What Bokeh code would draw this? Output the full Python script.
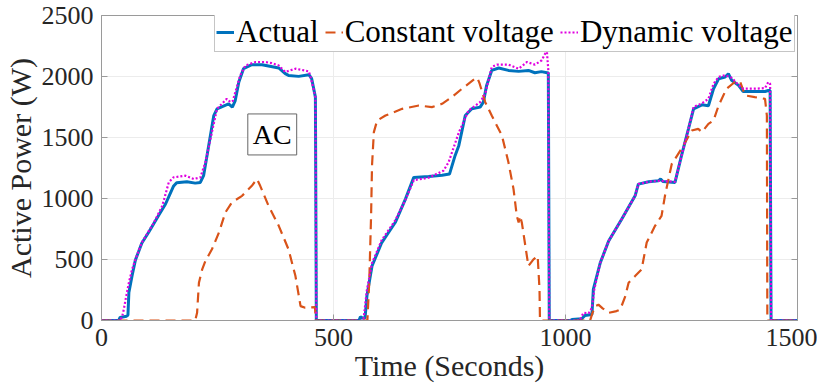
from bokeh.plotting import figure
from bokeh.models import Range1d, LinearAxis, Legend, LegendItem, Label, FixedTicker
from bokeh.embed import file_html
from bokeh.resources import INLINE

# ---- data ----
actual_t = [0, 37, 40, 54, 57, 59, 66, 73, 87, 102, 123, 138, 155, 162, 184, 202, 213, 220, 231, 242, 249,
            274, 282, 288, 296, 306, 324, 346, 382, 396, 403, 425, 447, 453, 461, 463,
            555, 558, 563, 568, 572, 583, 604, 633, 655, 673, 705, 734, 750, 762, 770, 784, 798, 816, 823,
            830, 841, 856, 877, 899, 920, 934, 948, 963, 965,
            1010, 1014, 1035, 1042, 1057, 1060, 1075, 1093, 1121, 1150, 1157, 1179, 1200, 1205, 1210, 1236,
            1250, 1265, 1276, 1294, 1308, 1319, 1330, 1344, 1351, 1358, 1373, 1383, 1409, 1430, 1437, 1441,
            1443, 1500]
actual_p = [0, 0, 25, 35, 45, 230, 370, 495, 635, 725, 860, 955, 1100, 1130, 1137, 1126, 1132, 1187, 1433, 1680, 1735,
            1775, 1748, 1800, 1955, 2064, 2097, 2097, 2070, 2023, 2009, 2001, 2015, 1982, 1831, 0,
            0, 30, 20, 20, 200, 447, 639, 803, 995, 1173, 1181, 1190, 1200, 1351, 1433, 1680, 1735, 1749, 1790,
            1927, 2050, 2070, 2050, 2042, 2050, 2031, 2040, 2028, 0,
            0, 8, 14, 41, 49, 255, 474, 652, 830, 1022, 1118, 1137, 1145, 1160, 1140, 1132,
            1351, 1571, 1735, 1768, 1760, 1900, 1982, 1996, 2023, 1969, 1927, 1877, 1877, 1877, 1885, 1885,
            0, 0]

const_t = [0, 202, 206, 210, 217, 224, 238, 253, 267, 281, 303, 324, 335, 342, 360, 382, 403, 418, 429, 439, 450,
           460, 462, 573, 577, 581, 583, 587, 594, 612, 648, 684, 712, 734, 755, 777, 805, 810, 815, 827, 841,
           863, 877, 888, 895, 899, 902, 906, 920, 931, 940, 944, 945, 1053, 1058, 1064, 1071, 1080, 1093,
           1110, 1118, 1129, 1136, 1150, 1164, 1175, 1193, 1207, 1215, 1229, 1236, 1254, 1272, 1286, 1294,
           1308, 1319, 1330, 1347, 1365, 1376, 1387, 1408, 1430, 1434, 1435, 1500]
const_p = [0, 0, 63, 310, 419, 488, 584, 720, 886, 968, 1022, 1104, 1160, 1104, 940, 776, 584, 364, 118, 104, 107,
           110, 0, 0, 310, 858, 1269, 1544, 1639, 1680, 1735, 1762, 1749, 1776, 1831, 1900, 1982, 1990, 1941, 1790, 1680,
           1516, 1297, 1077, 858, 803, 858, 800, 447, 501, 529, 255, 0, 0, 60, 118, 130, 100, 63,
           77, 90, 200, 310, 364, 419, 639, 776, 858, 1036, 1283, 1324, 1433, 1557, 1571, 1544,
           1612, 1639, 1762, 1900, 1955, 1962, 1845, 1831, 1817, 1680, 0, 0]

dyn_t = [0, 40, 45, 48, 52, 59, 66, 73, 87, 113, 131, 145, 155, 181, 199, 213, 224, 238, 249, 270, 278, 283,
         299, 310, 332, 352, 367, 382, 396, 418, 447, 453, 461, 463,
         560, 565, 572, 583, 604, 633, 655, 673, 705, 737, 748, 770, 791, 816, 827, 841, 852, 877, 899, 917,
         934, 949, 956, 960, 963, 965,
         1030, 1039, 1050, 1057, 1062, 1075, 1093, 1121, 1150, 1157, 1179, 1200, 1236, 1250, 1265, 1276, 1294,
         1308, 1319, 1330, 1344, 1358, 1373, 1383, 1409, 1430, 1437, 1441, 1443, 1500]
dyn_p = [0, 0, 40, 90, 173, 310, 420, 500, 640, 803, 940, 1132, 1173, 1187, 1160, 1173, 1297, 1544, 1735, 1817, 1790, 1800,
         2009, 2090, 2119, 2119, 2110, 2090, 2037, 2064, 2042, 1960, 1830, 0,
         0, 20, 250, 470, 660, 820, 990, 1150, 1170, 1228, 1297, 1540, 1721, 1790, 1858, 2078, 2097, 2097, 2064, 2119,
         2097, 2133, 2187, 2201, 2050, 0,
         0, 63, 60, 104, 255, 474, 652, 830, 1022, 1118, 1137, 1145, 1137, 1351, 1571, 1750, 1780,
         1817, 1940, 1996, 2010, 1990, 1930, 1900, 1900, 1905, 1955, 1940, 0, 0]

x_ticks = [0, 500, 1000, 1500]
y_ticks = [0, 500, 1000, 1500, 2000, 2500]
series_names = ["Actual", "Constant voltage", "Dynamic voltage"]

FONT = "Liberation Serif"
AXIS_COL = "#9a9a9a"
TXT_COL = "#262626"

p = figure(frame_width=696, frame_height=305, output_backend="svg", toolbar_location=None,
           x_range=Range1d(0, 1500), y_range=Range1d(0, 2500),
           min_border_left=98, min_border_right=20, min_border_top=15, min_border_bottom=54)
p.background_fill_color = "white"
p.border_fill_color = "white"
p.outline_line_color = AXIS_COL
p.outline_line_width = 1

r1 = p.line(actual_t, actual_p, line_color="#0072BD", line_width=3)
r2 = p.line(const_t, const_p, line_color="#D95319", line_width=2.2, line_dash="10 6")
r3 = p.line(dyn_t, dyn_p, line_color="#E000E0", line_width=2.2, line_dash="2 2")

for ax in (p.xaxis[0], p.yaxis[0]):
    ax.axis_line_color = AXIS_COL
    ax.major_tick_line_color = AXIS_COL
    ax.major_tick_in = 6
    ax.major_tick_out = 0
    ax.minor_tick_line_color = None
    ax.major_label_text_font = FONT
    ax.major_label_text_font_size = "26px"
    ax.major_label_text_color = TXT_COL
    ax.axis_label_text_font = FONT
    ax.axis_label_text_font_size = "30px"
    ax.axis_label_text_font_style = "normal"
    ax.axis_label_text_color = TXT_COL

p.xaxis[0].ticker = FixedTicker(ticks=x_ticks)
p.yaxis[0].ticker = FixedTicker(ticks=y_ticks)
p.xaxis[0].axis_label = "Time (Seconds)"
p.yaxis[0].axis_label = "Active Power (W)"
p.xaxis[0].major_label_standoff = 8
p.yaxis[0].major_label_standoff = 8
p.xaxis[0].axis_label_standoff = 0
p.yaxis[0].axis_label_standoff = 2

right = LinearAxis(ticker=FixedTicker(ticks=y_ticks), axis_line_color=AXIS_COL,
                   major_tick_line_color=AXIS_COL, major_tick_in=6, major_tick_out=0,
                   minor_tick_line_color=None, major_label_text_alpha=0,
                   major_label_text_font_size="1px")
p.add_layout(right, "right")

p.xgrid.ticker = FixedTicker(ticks=x_ticks)
p.ygrid.ticker = FixedTicker(ticks=y_ticks)
p.grid.grid_line_color = "#ececec"
p.grid.grid_line_width = 1

legend = Legend(items=[LegendItem(label=series_names[0], renderers=[r1]),
                       LegendItem(label=series_names[1], renderers=[r2]),
                       LegendItem(label=series_names[2], renderers=[r3])],
                orientation="horizontal", location=(113, 268),
                label_text_font=FONT, label_text_font_size="31px", label_text_color="black",
                glyph_width=18, label_standoff=2, spacing=6, padding=1, margin=0,
                border_line_color="#8c8c8c", border_line_width=1,
                background_fill_color="white", background_fill_alpha=1.0)
p.add_layout(legend, "center")

ac = Label(x=368, y=1525, text="AC", text_align="center", text_baseline="middle",
           text_font=FONT, text_font_size="28px", text_color="black",
           border_line_color="#666666", border_line_width=1,
           background_fill_color="white", padding=5)
p.add_layout(ac)

open("out.html", "w").write(file_html(p, INLINE))
